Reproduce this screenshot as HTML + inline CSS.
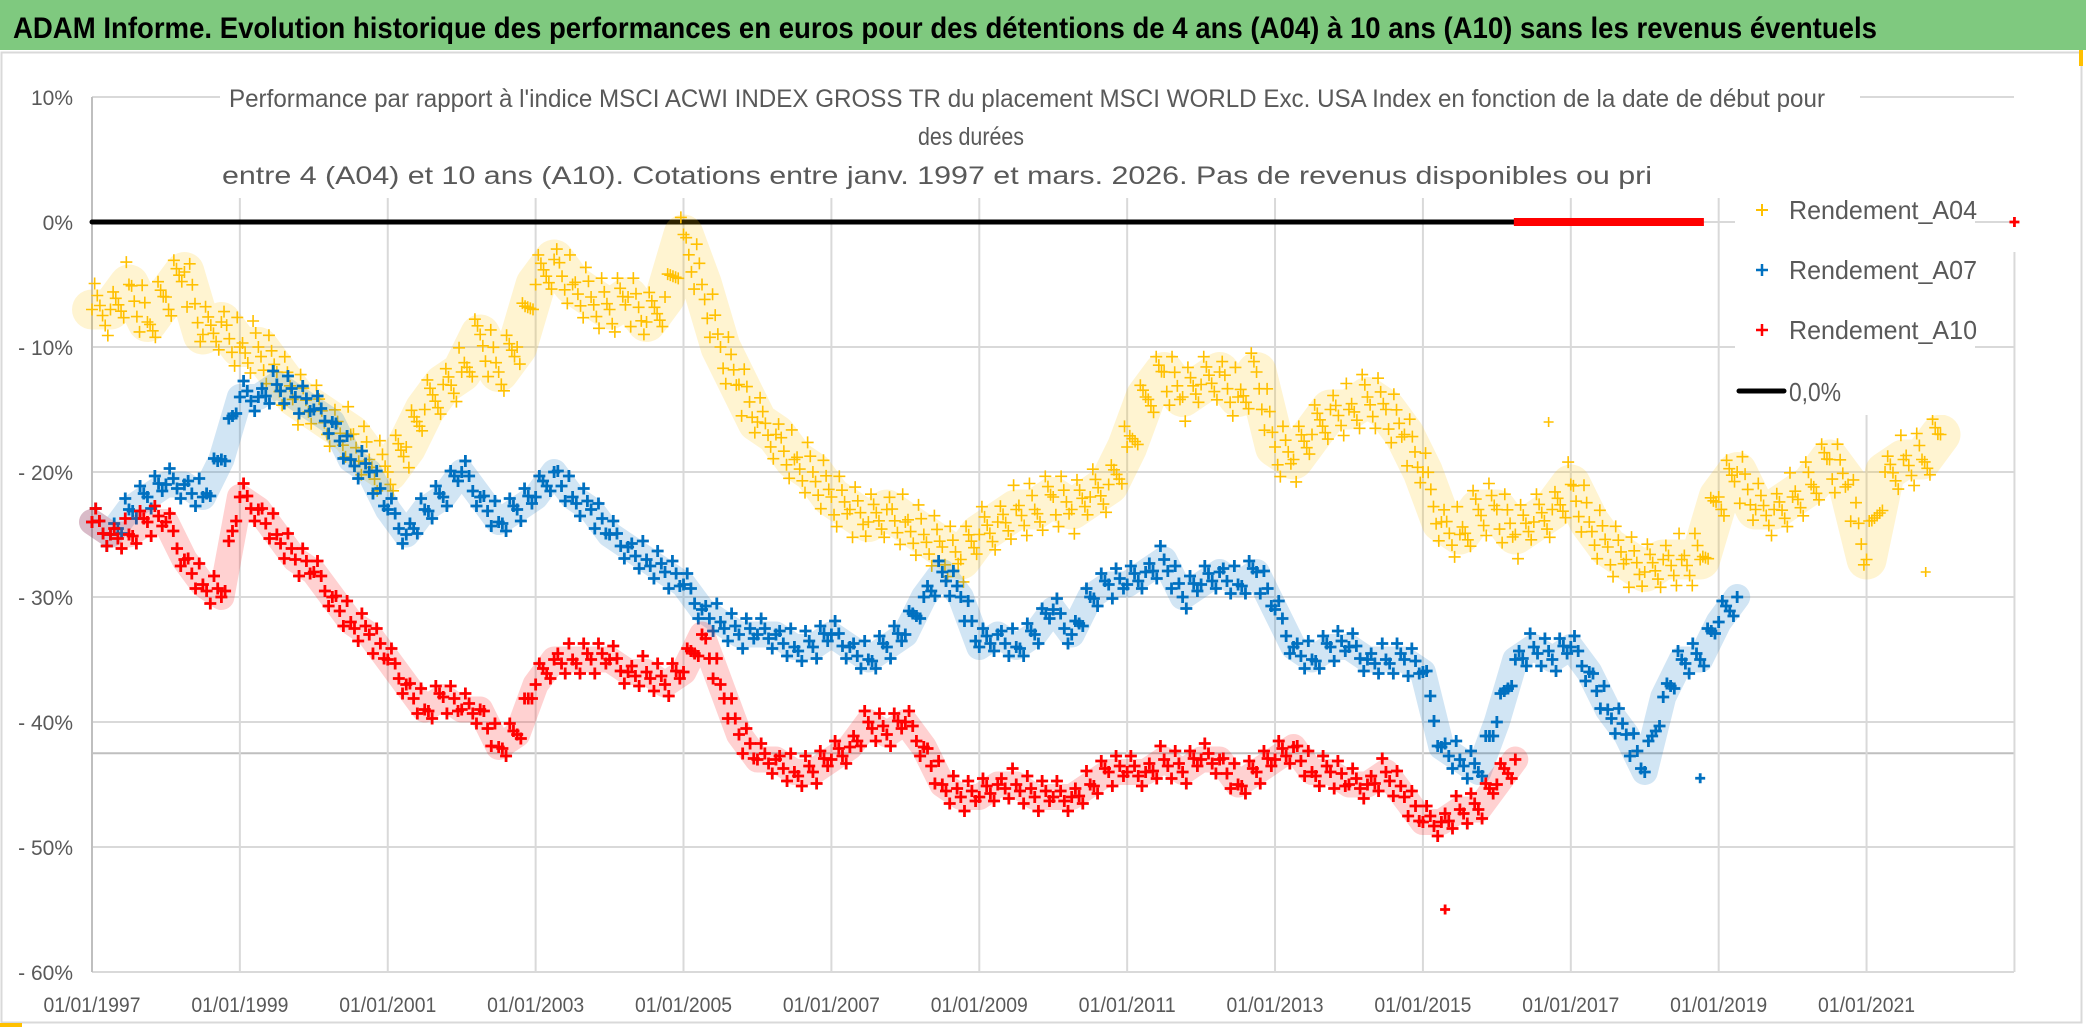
<!DOCTYPE html>
<html><head><meta charset="utf-8">
<style>
html,body{margin:0;padding:0;background:#fff;}
svg{display:block;font-family:"Liberation Sans",sans-serif;}
</style></head>
<body>
<svg id="chart" width="2086" height="1031" viewBox="0 0 2086 1031" xmlns="http://www.w3.org/2000/svg">
<rect x="0" y="0" width="2086" height="50" fill="#7fc97f"/>
<text x="13" y="38" font-size="30" font-weight="bold" fill="#000" textLength="1864" lengthAdjust="spacingAndGlyphs">ADAM Informe. Evolution historique des performances en euros pour des détentions de 4 ans (A04) à 10 ans (A10) sans les revenus éventuels</text>
<rect x="1.5" y="52.5" width="2080" height="970" fill="#fff" stroke="#d9d9d9" stroke-width="2"/>
<line x1="2081" y1="50" x2="2081" y2="66" stroke="#ffc000" stroke-width="4"/>
<line x1="0" y1="1025" x2="22" y2="1025" stroke="#ffc000" stroke-width="4"/>
<g id="grid"></g>
<g id="axes"></g>
<rect x="220" y="80" width="1640" height="115" fill="#fff"/>
<text x="229" y="107" font-size="25" fill="#595959" textLength="1596" lengthAdjust="spacingAndGlyphs">Performance par rapport à l'indice MSCI ACWI INDEX GROSS TR  du placement MSCI WORLD Exc. USA Index en fonction de la date de début pour</text>
<text x="918" y="145" font-size="25" fill="#595959" textLength="106" lengthAdjust="spacingAndGlyphs">des durées</text>
<text x="222" y="184" font-size="25" fill="#595959" textLength="1430" lengthAdjust="spacingAndGlyphs">entre 4 (A04) et 10 ans (A10). Cotations entre janv. 1997 et mars. 2026. Pas de revenus disponibles ou pri</text>
<g id="plot"></g>
<g id="legend">
  <rect x="1735" y="185" width="240" height="230" fill="#fff"/>
  <g>
    <path d="M1756,210h12M1762,204v12" stroke="#ffc000" stroke-width="2"/>
    <text x="1789" y="219" font-size="26" fill="#595959" textLength="188" lengthAdjust="spacingAndGlyphs">Rendement_A04</text>
  </g>
  <g>
    <path d="M1756,270h12M1762,264v12" stroke="#0070c0" stroke-width="2.5"/>
    <text x="1789" y="279" font-size="26" fill="#595959" textLength="188" lengthAdjust="spacingAndGlyphs">Rendement_A07</text>
  </g>
  <g>
    <path d="M1756,330h12M1762,324v12" stroke="#ff0000" stroke-width="2.5"/>
    <text x="1789" y="339" font-size="26" fill="#595959" textLength="188" lengthAdjust="spacingAndGlyphs">Rendement_A10</text>
  </g>
  <g>
    <line x1="1739" y1="391" x2="1784" y2="391" stroke="#000" stroke-width="5" stroke-linecap="round"/>
    <text x="1789" y="401" font-size="26" fill="#595959" textLength="52" lengthAdjust="spacingAndGlyphs">0,0%</text>
  </g>
</g>
</svg>
<script>
// ---- data ----
const yTicks = [10, 0, -10, -20, -30, -40, -50, -60];
const yTickLabels = ["10%", "0%", "- 10%", "- 20%", "- 30%", "- 40%", "- 50%", "- 60%"];
const xTickYears = [1997, 1999, 2001, 2003, 2005, 2007, 2009, 2011, 2013, 2015, 2017, 2019, 2021];
const xTickLabels = ["01/01/1997","01/01/1999","01/01/2001","01/01/2003","01/01/2005","01/01/2007","01/01/2009","01/01/2011","01/01/2013","01/01/2015","01/01/2017","01/01/2019","01/01/2021"];
const startA04 = 1997.0;
const a04 = [-7,-7,-5,-8,-6,-4,-9,-8,-10,-10,-12,-14,-15,-16,-17,-19,-20,-18,-15,-13,-12,-9,-12,-10,-5,-3,-5,-6,-7,-6,-8,-6,-1,-5,-10,-13,-16,-17,-19,-20,-22,-23,-24,-23,-24,-25,-26,-27,-25,-24,-23,-23,-22,-23,-22,-21,-18,-14,-12,-14,-13,-12,-14,-12,-18,-19,-17,-15,-15,-14,-15,-17,-20,-24,-25,-23,-23,-25,-24,-23,-21,-24,-26,-27,-28,-27,-27,-27,-22,-20,-23,-23,-22,-21,-19,-21,-27,-20,-19,-19,-17];
const startA07 = 1997.0;
const a07 = [-24,-25,-23,-22,-21,-21,-22,-19,-14,-14,-13,-14,-15,-16,-19,-20,-23,-25,-23,-22,-20,-22,-24,-23,-22,-20,-22,-23,-25,-26,-27,-28,-29,-31,-32,-33,-33,-33,-34,-34,-33,-34,-35,-34,-33,-30,-28,-30,-34,-33,-34,-33,-31,-33,-30,-29,-29,-28,-27,-30,-29,-28,-29,-28,-31,-34,-35,-34,-34,-35,-35,-35,-36,-42,-43,-44,-40,-35,-34,-35,-34,-36,-39,-41,-44,-38,-35,-35,-32,-30];
const startA10 = 1997.0;
const a10 = [-24,-25,-25,-24,-24,-27,-29,-30,-22,-23,-25,-27,-28,-30,-32,-33,-35,-37,-39,-38,-39,-39,-42,-41,-37,-35,-35,-35,-35,-36,-36,-37,-36,-33,-37,-41,-43,-43,-44,-44,-43,-42,-40,-41,-40,-42,-45,-46,-46,-45,-45,-46,-46,-46,-45,-44,-44,-44,-43,-44,-43,-43,-45,-44,-43,-42,-44,-44,-45,-45,-44,-46,-48,-48,-47,-47,-45,-43];
const outlierYears = [2016.7, 2021.8, 2018.75, 2015.3, 2023.0];
const outlierValues = [-16, -28, -44.5, -55, 0];
const outlierSeries = ["a04", "a04", "a07", "a10", "a10"];
const zeroLineStart = 1997.0, zeroLineEnd = 2016.23;
const zeroRedStart = 2016.23, zeroRedEnd = 2018.8;
const step = 0.25;

// ---- axes ----
const X0 = 92, PX_PER_YEAR = 73.94, Y0 = 222, PX_PER_PCT = 12.5, RIGHT = 2014;
const xs = yr => X0 + (yr - 1997) * PX_PER_YEAR;
const ys = v => Y0 - v * PX_PER_PCT;
const NS = "http://www.w3.org/2000/svg";
function mk(tag, attrs, parent){ const e = document.createElementNS(NS, tag); for (const k in attrs) e.setAttribute(k, attrs[k]); parent.appendChild(e); return e; }

const grid = document.getElementById('grid');
yTicks.forEach((t, i) => {
  const l = mk('line', {x1: X0, x2: RIGHT, y1: ys(t), y2: ys(t), stroke: '#d9d9d9', 'stroke-width': 2}, grid);
  
  
});
const extra = mk('line', {x1: X0, x2: RIGHT, y1: ys(-42.5), y2: ys(-42.5), stroke: '#bfbfbf', 'stroke-width': 2}, grid);


xTickYears.forEach((yr, i) => {
  if (i === 0) return;
  const l = mk('line', {x1: xs(yr), x2: xs(yr), y1: 198, y2: ys(-60), stroke: '#d9d9d9', 'stroke-width': 2}, grid);
  
  
});
const yr23 = mk('line', {x1: xs(2023), x2: xs(2023), y1: ys(0) + 30, y2: ys(-60), stroke: '#d9d9d9', 'stroke-width': 2}, grid);



const axes = document.getElementById('axes');
const ya = mk('line', {x1: X0, x2: X0, y1: ys(10), y2: ys(-60), stroke: '#bfbfbf', 'stroke-width': 2}, axes);


yTicks.forEach((t, i) => {
  const tx = mk('text', {x: 73, y: ys(t) + 8, 'font-size': 21, fill: '#595959', 'text-anchor': 'end'}, axes);
  tx.textContent = yTickLabels[i];
  
  
});
xTickYears.forEach((yr, i) => {
  const tx = mk('text', {x: xs(yr), y: 1012, 'font-size': 21, fill: '#595959', 'text-anchor': 'middle', textLength: 97, lengthAdjust: 'spacingAndGlyphs'}, axes);
  tx.textContent = xTickLabels[i];
  
  
});

// ---- series ----
const plot = document.getElementById('plot');
const colors = {a04: '#ffc000', a07: '#0070c0', a10: '#ff0000'};
const widths = {a04: 1.6, a07: 2.8, a10: 2.8};
const spreads = {a04: [-26, -14, -4, 6, 16, 26], a07: [-16, -6, 4, 14], a10: [-16, -6, 4, 14]};
function marker(g, x, y, key, size){
  const p = mk('path', {d: `M${x-size},${y}h${2*size}M${x},${y-size}v${2*size}`, stroke: colors[key], 'stroke-width': widths[key], fill: 'none'}, g);
  
  
}
function drawSeries(key, start, vals, band){
  const g = mk('g', {}, plot);
  
  
  const pts = vals.map((v, i) => xs(start + i * step).toFixed(1) + ',' + ys(v).toFixed(1)).join(' ');
  const pl = mk('polyline', {points: pts, fill: 'none', stroke: colors[key], 'stroke-width': band, 'stroke-opacity': 0.18, 'stroke-linejoin': 'round', 'stroke-linecap': 'round'}, g);
  
  
  const sp = spreads[key];
  vals.forEach((v, i) => {
    const x = xs(start + i * step), y = ys(v);
    marker(g, x, y, key, 6);
    if (i + 1 < vals.length) {
      const x2 = xs(start + (i + 1) * step), y2 = ys(vals[i + 1]);
      sp.forEach((off, k) => {
        const f = (k + 1) / (sp.length + 1);
        const dy = sp[(k + i) % sp.length];
        marker(g, x + (x2 - x) * f, y + (y2 - y) * f + dy, key, 6);
      });
    }
  });
}
// zero line
const zl = mk('line', {x1: xs(zeroLineStart), x2: xs(zeroLineEnd), y1: ys(0), y2: ys(0), stroke: '#000', 'stroke-width': 5, 'stroke-linecap': 'round'}, plot);


const zr = mk('rect', {x: xs(zeroRedStart), y: ys(0) - 4, width: xs(zeroRedEnd) - xs(zeroRedStart), height: 8, fill: '#ff0000'}, plot);



drawSeries('a04', startA04, a04, 40);
drawSeries('a07', startA07, a07, 26);
drawSeries('a10', startA10, a10, 26);
const og = mk('g', {}, plot);


outlierYears.forEach((yr, i) => marker(og, xs(yr), ys(outlierValues[i]), outlierSeries[i], 5));
</script>
</body></html>
